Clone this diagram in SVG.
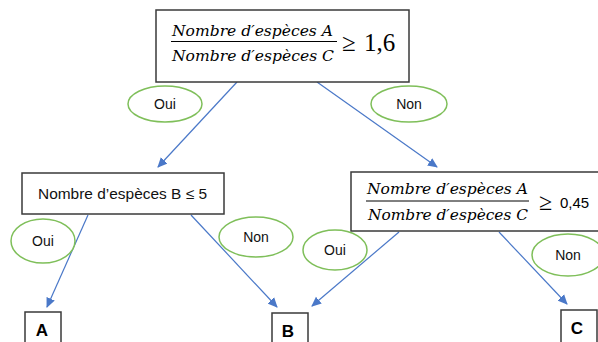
<svg xmlns="http://www.w3.org/2000/svg" width="598" height="342" viewBox="0 0 598 342">
<defs>
<style>
.box{fill:#fff;stroke:#3a3a3a;stroke-width:1.5}
.lbl{fill:#fff;stroke:#7fbf5a;stroke-width:1.5}
.lt{font-family:"Liberation Sans",Arial,sans-serif;font-size:14px;fill:#111;text-anchor:middle}
.leaf{font-family:"Liberation Sans",Arial,sans-serif;font-size:17px;font-weight:bold;fill:#000;text-anchor:middle}
.math{font-family:"DejaVu Serif","Liberation Serif",serif;font-style:italic;font-size:14px;fill:#000}
.rel{font-family:"Liberation Serif",serif;font-size:25px;fill:#000}
.conn{stroke:#4a78c8;stroke-width:1.2;fill:none;marker-end:url(#ah)}
</style>
<marker id="ah" markerWidth="10" markerHeight="10" refX="9" refY="5" orient="auto" markerUnits="userSpaceOnUse">
<path d="M0,0.5 L10,5 L0,9.5 Z" fill="#4a78c8"/>
</marker>
</defs>
<g id="connectors">
<line class="conn" x1="237" y1="82" x2="158" y2="167"/>
<line class="conn" x1="317" y1="82" x2="437" y2="167"/>
<line class="conn" x1="88" y1="215" x2="47" y2="307"/>
<line class="conn" x1="191" y1="215" x2="277" y2="307"/>
<line class="conn" x1="399" y1="232" x2="312" y2="306"/>
<line class="conn" x1="499" y1="232" x2="567" y2="304"/>
</g>
<g id="root">
<rect class="box" x="156" y="10" width="253" height="72"/>
<text class="math" x="172" y="36" textLength="161" lengthAdjust="spacingAndGlyphs">Nombre d′espèces A</text>
<line x1="171" y1="41.5" x2="337" y2="41.5" stroke="#000" stroke-width="1"/>
<text class="math" x="172" y="61" textLength="162" lengthAdjust="spacingAndGlyphs">Nombre d′espèces C</text>
<text class="rel" x="342" y="51">≥</text>
<text class="rel" x="364" y="51">1,6</text>
</g>
<g id="label-oui-1">
<ellipse class="lbl" cx="165" cy="104" rx="37" ry="18"/>
<text class="lt" x="165" y="109">Oui</text>
</g>
<g id="label-non-1">
<ellipse class="lbl" cx="409" cy="104" rx="38" ry="18"/>
<text class="lt" x="409" y="109">Non</text>
</g>
<g id="nodeB5">
<rect class="box" x="22" y="173" width="202" height="41"/>
<text x="38" y="199" font-family="'Liberation Sans',Arial,sans-serif" font-size="15" fill="#111" textLength="169" lengthAdjust="spacingAndGlyphs">Nombre d’espèces B ≤ 5</text>
</g>
<g id="label-oui-2">
<ellipse class="lbl" cx="43" cy="241" rx="32" ry="22"/>
<text class="lt" x="43" y="246">Oui</text>
</g>
<g id="label-non-2">
<ellipse class="lbl" cx="256" cy="237" rx="37" ry="20"/>
<text class="lt" x="256" y="242">Non</text>
</g>
<g id="nodeAC045">
<rect class="box" x="351" y="172" width="252" height="59"/>
<text class="math" x="367" y="194" textLength="161" lengthAdjust="spacingAndGlyphs">Nombre d′espèces A</text>
<line x1="366" y1="201" x2="529" y2="201" stroke="#000" stroke-width="1"/>
<text class="math" x="368" y="220" textLength="160" lengthAdjust="spacingAndGlyphs">Nombre d′espèces C</text>
<text x="539" y="210" font-family="'Liberation Serif',serif" font-size="24" fill="#000">≥</text>
<text x="560" y="208" font-family="'Liberation Sans',Arial,sans-serif" font-size="15" fill="#000">0,45</text>
</g>
<g id="label-oui-3">
<ellipse class="lbl" cx="335" cy="250" rx="32" ry="20"/>
<text class="lt" x="335" y="255">Oui</text>
</g>
<g id="label-non-3">
<ellipse class="lbl" cx="568" cy="255" rx="36" ry="21"/>
<text class="lt" x="568" y="260">Non</text>
</g>
<g id="leafA">
<rect class="box" x="25" y="312" width="36" height="40"/>
<text class="leaf" x="42" y="336">A</text>
</g>
<g id="leafB">
<rect class="box" x="272" y="313" width="36" height="40"/>
<text class="leaf" x="288" y="337">B</text>
</g>
<g id="leafC">
<rect class="box" x="561" y="310" width="36" height="40"/>
<text class="leaf" x="577" y="334">C</text>
</g>
</svg>
